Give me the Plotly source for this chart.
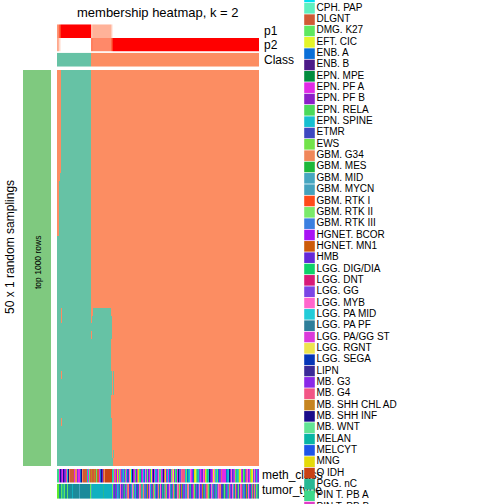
import numpy as np
import plotly.graph_objects as go

W = H = 504
FONT = "Liberation Sans"
TEAL = "#66C2A5"
ORANGE = "#FC8D62"
LEFT_GREEN = "#7FC97F"

# ---------------- data ----------------
n_rows = 50
n_cols = 202
# class runs along the sorted samples: (count, class) 0 = class 1 (teal), 1 = class 2 (orange)
class_runs = [(34, 0), (168, 1)]
# membership probability for class 1, as runs (count, value)
p1_runs = [(1, 0.55), (1, 0.6), (1, 0.8), (1, 0.9), (30, 1.0), (2, 0.35),
           (18, 0.4), (1, 0.25), (1, 0.1), (146, 0.0)]
# per sampling (row): leftmost columns put in class 2
left_orange = [4] * 13 + [3] + [2] * 7 + [0] * 29
# per sampling (row): end (exclusive) of the class-1 block
teal_end = [34] * 30 + [54, 55, 55, 55, 54, 54, 54, 54, 57, 57, 57, 54, 54, 54,
                        55, 55, 55, 55, 57, 56]
# isolated class-2 cells inside class-1 blocks (row, column)
orange_spots = [(30, 4), (31, 4), (38, 4), (44, 4), (30, 34), (30, 35), (31, 34),
                (33, 34), (38, 55), (39, 55), (40, 55), (48, 55)]

# annotation bar colour codes, one character per sample column
codes = {
    'a': '#3DD98A', 'b': '#E12AE6', 'c': '#1A0C8A', 'd': '#8A28E8', 'e': '#F25585',
    'f': '#17BFD0', 'g': '#D05A35', 'h': '#F0875A', 'i': '#0A6FD8', 'j': '#5EE860',
    'k': '#C84215', 'l': '#C68420', 'm': '#E4F52A', 'n': '#1B8A9A', 'o': '#10B0C0',
    'p': '#3A7FE0', 'q': '#6428D8', 'r': '#2E7E9A', 's': '#FF66CC', 't': '#27B894',
    'u': '#7A45E5', 'v': '#46A6C0', 'w': '#3D48C0', 'x': '#0ED26A', 'y': '#E5DA0A',
    'z': '#4BD95A', 'J': '#5CEB2C', 'E': '#ED6F8C',
}
meth_class = ("aabcdbcqde" "fchggggbhh" "dbbichgggg" "fbjglgglgj" "ggbicqghkk"
              "kkkkkfjbed" "ybjeupfdjb" "iwsmfcdbzq" "eyaxdbfisu" "jqbtmdcbfp"
              "dsajbuceyd" "fbiqjsmdax" "bcpuEeeefj" "iofsbdiymj" "tfubdqsbyj"
              "xfcqdbmsaf" "jiduebbbbi" "ofcdsqubjt" "faymbdjxue" "sdbjymusdf" "ud")
tumor_type = ("JJnnjttjnn" "jnnnnonnnn" "nnvnnnnnnn" "nnnjvooooo" "ooooootooo"
              "ooooojuqrd" "fpnsqurtdv" "ehqnpsjufw" "qrsetvhpun" "lqsfdrejpw"
              "uhnsqtrvej" "qdspnuhtwr" "sejqlnudvp" "hsrtqdejnu" "wpsqdlrtue"
              "hjnqsvdrpt" "usehqwnjrd" "pteuqsvnhd" "rjqseutpwl" "nsdqterhuj" "tr")

legend_names = ["CPH. ADM", "CPH. PAP", "DLGNT", "DMG. K27", "EFT. CIC", "ENB. A",
                "ENB. B", "EPN. MPE", "EPN. PF A", "EPN. PF B", "EPN. RELA",
                "EPN. SPINE", "ETMR", "EWS", "GBM. G34", "GBM. MES", "GBM. MID",
                "GBM. MYCN", "GBM. RTK I", "GBM. RTK II", "GBM. RTK III",
                "HGNET. BCOR", "HGNET. MN1", "HMB", "LGG. DIG/DIA", "LGG. DNT",
                "LGG. GG", "LGG. MYB", "LGG. PA MID", "LGG. PA PF", "LGG. PA/GG ST",
                "LGG. RGNT", "LGG. SEGA", "LIPN", "MB. G3", "MB. G4",
                "MB. SHH CHL AD", "MB. SHH INF", "MB. WNT", "MELAN", "MELCYT", "MNG",
                "O IDH", "PGG. nC", "PIN T. PB A", "PIN T. PB B"]
legend_colors = ["#00E0F0", "#5EF0C0", "#D05A35", "#5EE860", "#E4F52A", "#0A6FD8",
                 "#4B1A88", "#028C3E", "#E12AE6", "#8B1FC8", "#4BD95A", "#17BFD0",
                 "#3D48C0", "#72E34A", "#F0875A", "#1DB83A", "#46A6C0", "#45A2BD",
                 "#FF4A1A", "#7AEA6A", "#3A7FE0", "#A812F5", "#CC5A0A", "#6428D8",
                 "#0ED26A", "#D81A78", "#7A45E5", "#FF66CC", "#22CCD8", "#2E7E9A",
                 "#DB3ADB", "#EDE44E", "#0636B8", "#3A2A98", "#8A28E8", "#F25585",
                 "#C68420", "#1A0C8A", "#62E494", "#08B5A5", "#1E55E8", "#E5DA0A",
                 "#C84215", "#27B894", "#3DD98A", "#E03CC8"]

assert len(meth_class) == n_cols and len(tumor_type) == n_cols

# ---------------- derived arrays ----------------
cls = np.concatenate([[c] * n for n, c in class_runs])
p1 = np.concatenate([[v] * n for n, v in p1_runs])
p2 = 1 - p1
Z = np.ones((n_rows, n_cols), int)
for r in range(n_rows):
    Z[r, left_orange[r]:teal_end[r]] = 0
for r, c in orange_spots:
    Z[r, c] = 1

cols = list(range(n_cols))

# ---------------- white -> red colour ramp in LAB ----------------
_M = np.array([[0.4124, 0.3576, 0.1805], [0.2126, 0.7152, 0.0722], [0.0193, 0.1192, 0.9505]])
_Mi = np.linalg.inv(_M)
_WP = np.array([0.95047, 1.0, 1.08883])


def _hex2lab(h):
    rgb = np.array([int(h[i:i + 2], 16) / 255 for i in (1, 3, 5)])
    lin = np.where(rgb <= 0.04045, rgb / 12.92, ((rgb + 0.055) / 1.055) ** 2.4)
    xyz = _M @ lin / _WP
    d = 6 / 29
    f = np.where(xyz > d ** 3, np.cbrt(xyz), xyz / (3 * d * d) + 4 / 29)
    return np.array([116 * f[1] - 16, 500 * (f[0] - f[1]), 200 * (f[1] - f[2])])


def _lab2hex(lab):
    L, a, b = lab
    fy = (L + 16) / 116
    fx = fy + a / 500
    fz = fy - b / 200
    d = 6 / 29
    f = np.array([fx, fy, fz])
    xyz = np.where(f > d, f ** 3, 3 * d * d * (f - 4 / 29)) * _WP
    lin = _Mi @ xyz
    lin = np.clip(lin, 0, 1)
    srgb = np.where(lin <= 0.0031308, 12.92 * lin, 1.055 * lin ** (1 / 2.4) - 0.055)
    v = np.clip(np.round(srgb * 255), 0, 255).astype(int)
    return "#%02X%02X%02X" % tuple(v)


_l0, _l1 = _hex2lab("#FFFFFF"), _hex2lab("#FF0000")
prob_scale = [[t, _lab2hex(_l0 + (_l1 - _l0) * t)] for t in np.linspace(0, 1, 21)]


def discrete_scale(colors):
    n = len(colors)
    sc = []
    for i, c in enumerate(colors):
        sc.append([i / n, c])
        sc.append([(i + 1) / n, c])
    return sc


code_keys = list(codes.keys())
code_colors = [codes[k] for k in code_keys]
meth_idx = [code_keys.index(ch) for ch in meth_class]
tumor_idx = [code_keys.index(ch) for ch in tumor_type]
NC = len(code_keys)

# ---------------- figure ----------------
fig = go.Figure()
two = [[0, TEAL], [0.5, TEAL], [0.5, ORANGE], [1, ORANGE]]

fig.add_trace(go.Heatmap(z=Z, x=cols, y=list(range(n_rows)), colorscale=two, zmin=0, zmax=1,
                         showscale=False, hoverinfo="skip", xaxis="x", yaxis="y"))
fig.add_trace(go.Heatmap(z=[p1, p2], x=cols, y=["p1", "p2"], colorscale=prob_scale, zmin=0,
                         zmax=1, showscale=False, hoverinfo="skip", xaxis="x", yaxis="y2"))
fig.add_trace(go.Heatmap(z=[cls], x=cols, y=["Class"], colorscale=two, zmin=0, zmax=1,
                         showscale=False, hoverinfo="skip", xaxis="x", yaxis="y3"))
fig.add_trace(go.Heatmap(z=[meth_idx], x=cols, y=["meth_class"], colorscale=discrete_scale(code_colors),
                         zmin=-0.5, zmax=NC - 0.5, showscale=False, hoverinfo="skip",
                         xaxis="x", yaxis="y4"))
fig.add_trace(go.Heatmap(z=[tumor_idx], x=cols, y=["tumor_type"], colorscale=discrete_scale(code_colors),
                         zmin=-0.5, zmax=NC - 0.5, showscale=False, hoverinfo="skip",
                         xaxis="x", yaxis="y5"))
# left annotation bar (top 1000 rows)
fig.add_trace(go.Heatmap(z=[[0]], colorscale=[[0, LEFT_GREEN], [1, LEFT_GREEN]], showscale=False,
                         hoverinfo="skip", xaxis="x2", yaxis="y6"))

# legend + right labels on one overlay subplot (index axis for legend rows)
LEG_Y0 = 8.3      # px of legend item index 1
LEG_DY = 11.335   # px per item


def px2idx(py):
    return 1 + (py - LEG_Y0) / LEG_DY


fig.add_trace(go.Scatter(x=[262, 262], y=[px2idx(476), px2idx(491)], mode="text",
                         text=["meth_class", "tumor_type"], textposition="middle right",
                         textfont=dict(family=FONT, size=12, color="black"),
                         hoverinfo="skip", xaxis="x3", yaxis="y7"))
leg_idx = list(range(len(legend_names)))
fig.add_trace(go.Scatter(x=[309.5] * len(leg_idx), y=leg_idx, mode="markers",
                         marker=dict(symbol="square", size=10.6, color=legend_colors,
                                     line=dict(width=0)),
                         hoverinfo="skip", xaxis="x3", yaxis="y7"))
fig.add_trace(go.Scatter(x=[316.5] * len(leg_idx), y=leg_idx, mode="text", text=legend_names,
                         textposition="middle right",
                         textfont=dict(family=FONT, size=10, color="black"),
                         hoverinfo="skip", xaxis="x3", yaxis="y7"))


def ydom(top, bottom):
    return [1 - bottom / H, 1 - top / H]


hidden = dict(visible=False, showgrid=False, zeroline=False, fixedrange=True)
fig.update_layout(
    width=W, height=H, margin=dict(l=0, r=0, t=0, b=0),
    paper_bgcolor="white", plot_bgcolor="rgba(0,0,0,0)", showlegend=False, hovermode=False,
    xaxis=dict(domain=[57 / W, 259 / W], range=[-0.5, n_cols - 0.5], **hidden),
    yaxis=dict(domain=ydom(70, 466), range=[n_rows - 0.5, -0.5], **hidden),
    yaxis2=dict(domain=ydom(24.3, 51.7), autorange="reversed", type="category", **hidden),
    yaxis3=dict(domain=ydom(52.7, 66.7), type="category", **hidden),
    yaxis4=dict(domain=ydom(469, 482.5), type="category", **hidden),
    yaxis5=dict(domain=ydom(483.8, 498.7), type="category", **hidden),
    xaxis2=dict(domain=[23 / W, 51 / W], range=[-0.5, 0.5], **hidden),
    yaxis6=dict(domain=ydom(70, 466), range=[-0.5, 0.5], **hidden),
    xaxis3=dict(domain=[0, 1], range=[0, W], **hidden),
    yaxis7=dict(domain=[0, 1], range=[px2idx(H), px2idx(0)], **hidden),
    annotations=[
        dict(text="membership heatmap, k = 2", x=158 / W, y=1 - 12 / H, xref="paper",
             yref="paper", showarrow=False, xanchor="center", yanchor="middle",
             font=dict(family=FONT, size=13, color="black")),
        dict(text="p1", x=262 / W, y=1 - 31 / H, xref="paper", yref="paper", showarrow=False,
             xanchor="left", yanchor="middle", font=dict(family=FONT, size=12, color="black")),
        dict(text="p2", x=262 / W, y=1 - 45 / H, xref="paper", yref="paper", showarrow=False,
             xanchor="left", yanchor="middle", font=dict(family=FONT, size=12, color="black")),
        dict(text="Class", x=262 / W, y=1 - 59.7 / H, xref="paper", yref="paper",
             showarrow=False, xanchor="left", yanchor="middle",
             font=dict(family=FONT, size=12, color="black")),
        dict(text="50 x 1 random samplings", x=10 / W, y=1 - 247 / H, xref="paper",
             yref="paper", showarrow=False, textangle=-90, xanchor="center",
             yanchor="middle", font=dict(family=FONT, size=12, color="black")),
        dict(text="top 1000 rows", x=38 / W, y=1 - 263 / H, xref="paper", yref="paper",
             showarrow=False, textangle=-90, xanchor="center", yanchor="middle",
             font=dict(family=FONT, size=8.5, color="black")),
    ],
)

fig.write_html("out.html", config={"displayModeBar": False, "staticPlot": True},
               post_script="document.body.style.margin='0';")
